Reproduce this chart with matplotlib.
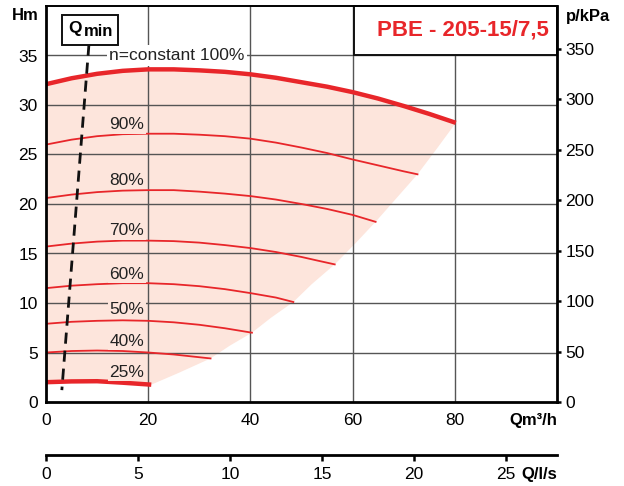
import matplotlib
matplotlib.use("Agg")
import matplotlib.pyplot as plt
from matplotlib.patches import Rectangle, Polygon

plt.rcParams['font.family'] = ['Liberation Sans', 'DejaVu Sans']

# ---- data ----
q100 = [0, 5, 10, 15, 20, 25, 30, 35, 40, 45, 50, 55, 60, 65, 70, 75, 80.2]
h100 = [32.1, 32.7, 33.15, 33.45, 33.6, 33.6, 33.5, 33.35, 33.1, 32.75, 32.3, 31.85, 31.3,
        30.65, 29.9, 29.1, 28.2]
q90 = [0, 5, 10, 15, 20, 25, 30, 35, 40, 45, 50, 55, 60, 65, 70, 72.7]
h90 = [26.0, 26.5, 26.85, 27.05, 27.1, 27.1, 27.0, 26.85, 26.6, 26.2, 25.7, 25.15, 24.5,
       23.9, 23.3, 23.0]
q80 = [0, 5, 10, 15, 20, 25, 30, 35, 40, 45, 50, 55, 60, 64.5]
h80 = [20.6, 20.95, 21.2, 21.35, 21.4, 21.4, 21.25, 21.05, 20.8, 20.45, 20.0, 19.5, 18.9, 18.2]
q70 = [0, 5, 10, 15, 20, 25, 30, 35, 40, 45, 50, 53, 56.5]
h70 = [15.7, 16.0, 16.2, 16.3, 16.3, 16.25, 16.1, 15.85, 15.55, 15.15, 14.65, 14.3, 13.9]
q60 = [0, 5, 10, 15, 20, 25, 30, 35, 40, 45, 48.4]
h60 = [11.5, 11.75, 11.9, 12.0, 12.0, 11.9, 11.7, 11.4, 11.0, 10.55, 10.1]
q50 = [0, 5, 10, 15, 20, 25, 30, 35, 40.3]
h50 = [7.9, 8.1, 8.2, 8.25, 8.2, 8.05, 7.8, 7.45, 7.0]
q40 = [0, 5, 10, 15, 20, 25, 32.2]
h40 = [5.0, 5.15, 5.2, 5.15, 5.0, 4.8, 4.4]
q25 = [0, 5, 10, 15, 20.6]
h25 = [2.0, 2.08, 2.1, 1.95, 1.75]

# right edge of the shaded operating area
q_edge = [80.2, 76.5, 72.7, 68.6, 64.5, 60.5, 56.5, 52.0, 48.4, 44.0, 40.3, 36.0, 32.2, 26.0, 20.6]
h_edge = [28.2, 25.6, 23.0, 20.6, 18.2, 16.0, 13.9, 11.9, 10.1, 8.5, 7.0, 5.7, 4.4, 2.95, 1.75]

speed_labels = ["90%", "80%", "70%", "60%", "50%", "40%", "25%"]
label_h = [28.0, 22.4, 17.3, 12.9, 9.3, 6.1, 3.0]

qmin_q = [8.4, 3.1]
qmin_h = [36.1, 1.2]

x_ticks = [0, 20, 40, 60, 80]
y_ticks = [0, 5, 10, 15, 20, 25, 30, 35]
kpa_ticks = [0, 50, 100, 150, 200, 250, 300, 350]
ls_ticks = [0, 5, 10, 15, 20, 25]

title = "PBE - 205-15/7,5"

RED = "#e8262a"
FILL = "#fde5dc"
GRID = "#555555"
FS = 12.5

W, H = 624, 486
fig = plt.figure(figsize=(W / 100, H / 100), dpi=100)
L, R, B, T = 46, 557, 402, 6
ax = fig.add_axes([L / W, 1 - B / H, (R - L) / W, (B - T) / H])
ax.set_xlim(0, 100)
ax.set_ylim(0, 40)

# shaded operating region
poly = ([(0, h25[0])] + list(zip(q100, h100)) + list(zip(q_edge, h_edge))[1:]
        + list(zip(q25[::-1], h25[::-1]))[1:])
ax.add_patch(Polygon(poly, closed=True, facecolor=FILL, edgecolor='none', zorder=1))

# grid
for yv in y_ticks[1:]:
    ax.axhline(yv, color=GRID, lw=1.0, zorder=2)
for xv in x_ticks[1:]:
    ax.axvline(xv, color=GRID, lw=1.0, zorder=2)

# curves
ax.plot(q100, h100, color=RED, lw=3.2, zorder=4, solid_capstyle='butt')
for q, h in [(q90, h90), (q80, h80), (q70, h70), (q60, h60), (q50, h50), (q40, h40)]:
    ax.plot(q, h, color=RED, lw=1.3, zorder=4)
ax.plot(q25, h25, color=RED, lw=3.2, zorder=4, solid_capstyle='butt')

for lab, yv in zip(speed_labels, label_h):
    ax.text(12.4, yv, lab, fontsize=FS, color='#222222', ha='left', va='center', zorder=5,
            bbox=dict(boxstyle='square,pad=0.08', facecolor=FILL, edgecolor='none'))

ax.text(12.4, 35.0, "n=constant 100%", fontsize=FS, color='#222222', ha='left', va='center',
        zorder=5, bbox=dict(boxstyle='square,pad=0.15', facecolor='white', edgecolor='none'))

# Qmin line and box
ax.plot(qmin_q, qmin_h, color='#111111', lw=2.0, dashes=(4, 2.5), zorder=6)
ax.add_patch(Rectangle((3.1, 36.1), 11.0, 3.0, facecolor='white', edgecolor='#111111',
                       lw=1.4, zorder=7))
ax.text(4.4, 37.75, "Q", fontsize=12.5, fontweight='bold', ha='left', va='center', zorder=8)
ax.text(7.4, 37.4, "min", fontsize=12, fontweight='bold', ha='left', va='center', zorder=8)

# title box
ax.add_patch(Rectangle((60.2, 35), 39.8, 5, facecolor='white', edgecolor='#111111',
                       lw=1.4, zorder=7, clip_on=False))
ax.text(81.5, 37.55, title, fontsize=16, fontweight='bold', color=RED, ha='center',
        va='center', zorder=8)

# axes styling
for s in ['left', 'bottom', 'right']:
    ax.spines[s].set_linewidth(2.0)
ax.spines['top'].set_linewidth(1.4)
for s in ax.spines.values():
    s.set_zorder(9)
ax.set_xticks(x_ticks)
ax.set_yticks(y_ticks)
ax.tick_params(axis='both', length=0, labelsize=FS)
ax.tick_params(axis='x', pad=8)
ax.tick_params(axis='y', pad=6)

ax2 = ax.twinx()
ax2.set_ylim(0, 40 * 9.81)
ax2.set_yticks(kpa_ticks)
ax2.tick_params(axis='y', length=3, width=1.8, labelsize=FS, pad=3)
for s in ax2.spines.values():
    s.set_visible(False)

fig.text(25 / W, 1 - 16 / H, "Hm", fontsize=12, fontweight='bold', ha='center', va='center')
fig.text(588 / W, 1 - 16 / H, "p/kPa", fontsize=12, fontweight='bold', ha='center', va='center')
fig.text(557 / W, 1 - 420 / H, "Qm³/h", fontsize=12, fontweight='bold', ha='right', va='center')

# second flow axis (l/s)
ax3 = fig.add_axes([L / W, 1 - 455 / H, (R - L) / W, 0.0001])
ax3.set_xlim(0, 100 / 3.6)
ax3.set_xticks(ls_ticks)
ax3.set_yticks([])
for s in ['left', 'right', 'top']:
    ax3.spines[s].set_visible(False)
ax3.spines['bottom'].set_linewidth(2.0)
ax3.patch.set_visible(False)
ax3.tick_params(axis='x', direction='out', length=4.5, width=1.8, labelsize=FS, pad=4)
fig.text(557 / W, 1 - 474 / H, "Q/l/s", fontsize=12, fontweight='bold', ha='right', va='center')

fig.savefig("out.png", dpi=100)
